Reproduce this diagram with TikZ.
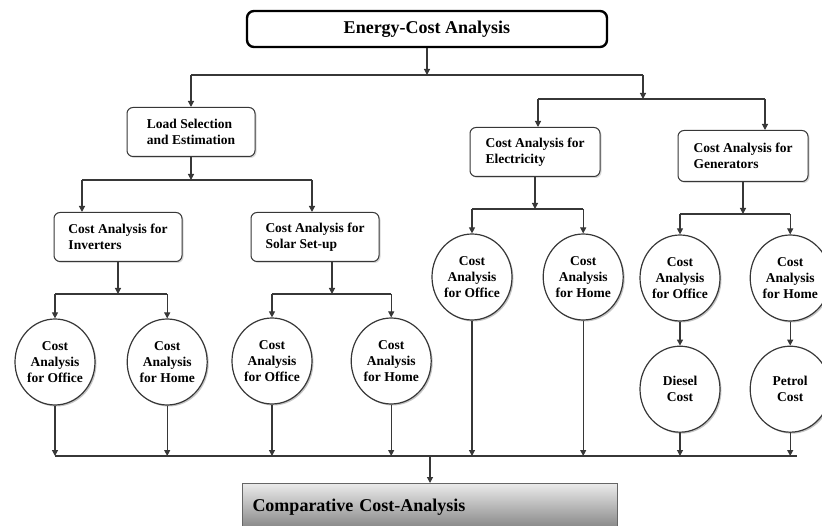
\documentclass[tikz,border=0pt]{standalone}
\usepackage{fontspec}
\setmainfont{Liberation Serif}
\usepackage{tikz}
\usetikzlibrary{arrows.meta,positioning,shapes.geometric,shadows}
\definecolor{linegray}{RGB}{55,55,55}

\begin{document}
\begin{tikzpicture}[x=1pt, y=1pt,
      font=\bfseries\fontsize{13.5}{16}\selectfont,
      node distance=24pt and 31pt,
      head/.style={rounded corners=7pt, draw=black, line width=2.4pt, fill=white, minimum width=360pt, minimum height=36pt, font=\bfseries\fontsize{18}{21}\selectfont},
      rbox/.style={rounded corners=6pt, draw=linegray, line width=1pt, fill=white, minimum width=128pt, minimum height=49pt, align=left, drop shadow={shadow xshift=1.5pt, shadow yshift=-1.5pt, fill=black!30}},
      circ/.style={ellipse, draw=linegray, line width=1.2pt, fill=white, minimum width=80pt, minimum height=86pt, inner sep=0pt, align=center, drop shadow={shadow xshift=1.5pt, shadow yshift=-1.5pt, fill=black!45}},
      arr/.style={-{Triangle[length=6pt,width=6pt]}, line width=1.2pt, draw=linegray},
      bus/.style={line width=1.2pt, draw=linegray}
    ]
      \useasboundingbox (0,0) rectangle (822,-526);
      \node[head] (energy) at (427,-29) {Energy-Cost Analysis};
      \node[rbox] (load) at (191,-132) {Load Selection\\and Estimation};
      \node[rbox] (inv) at (118,-237) {Cost Analysis for\\Inverters};
      \node[rbox] (solar) at (315,-237) {Cost Analysis for\\Solar Set-up};
      \node[rbox, minimum width=130pt] (elec) at (535,-152) {Cost Analysis for\\Electricity};
      \node[rbox, minimum width=130pt, minimum height=51pt] (gen) at (743,-156) {Cost Analysis for\\Generators};

      \node[circ] (invoff) at (55,-362) {Cost\\Analysis\\for Office};
      \node[circ, right=31pt of invoff] (invhome) {Cost\\Analysis\\for Home};
      \node[circ] (solaroff) at (272,-361) {Cost\\Analysis\\for Office};
      \node[circ, right=38pt of solaroff] (solarhome) {Cost\\Analysis\\for Home};
      \node[circ] (elecoff) at (472,-277) {Cost\\Analysis\\for Office};
      \node[circ, right=30pt of elecoff] (elechome) {Cost\\Analysis\\for Home};
      \node[circ] (genoff) at (680,-278) {Cost\\Analysis\\for Office};
      \node[circ, right=29pt of genoff] (genhome) {Cost\\Analysis\\for Home};
      \node[circ, below=of genoff] (diesel) {Diesel\\Cost};
      \node[circ, below=of genhome] (petrol) {Petrol\\Cost};

      \node[draw=black!60, line width=0.8pt, top color=black!8, bottom color=black!50, minimum width=375pt, minimum height=48pt, text width=355pt, align=left, anchor=north, font=\bfseries\fontsize{18}{21}\selectfont] (comp) at (430,-483) {Comparative Cost-Analysis};

      \coordinate (b1l) at (191,-75);
      \coordinate (b1r) at (643,-75);
      \coordinate (b2l) at (538,-99);
      \coordinate (b2r) at (765,-99);
      \coordinate (b3l) at (82,-180);
      \coordinate (b3r) at (312,-180);
      \coordinate (bl) at (55,-456);
      \coordinate (br) at (797,-456);

      \draw[arr] (energy.south) -- (energy.south |- b1l);
      \draw[bus] (b1l) -- (b1r);
      \draw[arr] (b1l) -- (load.north);
      \draw[arr] (b1r) -- (b1r |- b2l);
      \draw[bus] (b2l) -- (b2r);
      \draw[arr] (b2l) -- (b2l |- elec.north);
      \draw[arr] (b2r) -- (b2r |- gen.north);

      \draw[arr] (load.south) -- (load.south |- b3l);
      \draw[bus] (b3l) -- (b3r);
      \draw[arr] (b3l) -- (b3l |- inv.north);
      \draw[arr] (b3r) -- (b3r |- solar.north);

      \foreach \p/\a/\b/\s in {inv/invoff/invhome/0, solar/solaroff/solarhome/17, elec/elecoff/elechome/0, gen/genoff/genhome/0} {
        \draw[arr] ([xshift=\s pt]\p.south) -- ++(0,-32) coordinate (j);
        \draw[bus] (\a |- j) -- (\b |- j);
        \draw[arr] (\a |- j) -- (\a.north);
        \draw[arr] (\b |- j) -- (\b.north);
      }
      \draw[arr] (genoff) -- (diesel);
      \draw[arr] (genhome) -- (petrol);

      \foreach \c in {invoff,invhome,solaroff,solarhome,elecoff,elechome,diesel,petrol}
        \draw[arr] (\c.south) -- (\c.south |- bl);
      \draw[bus] (bl) -- (br);
      \draw[arr] (comp.north |- bl) -- (comp.north);
    \end{tikzpicture}
\end{document}
